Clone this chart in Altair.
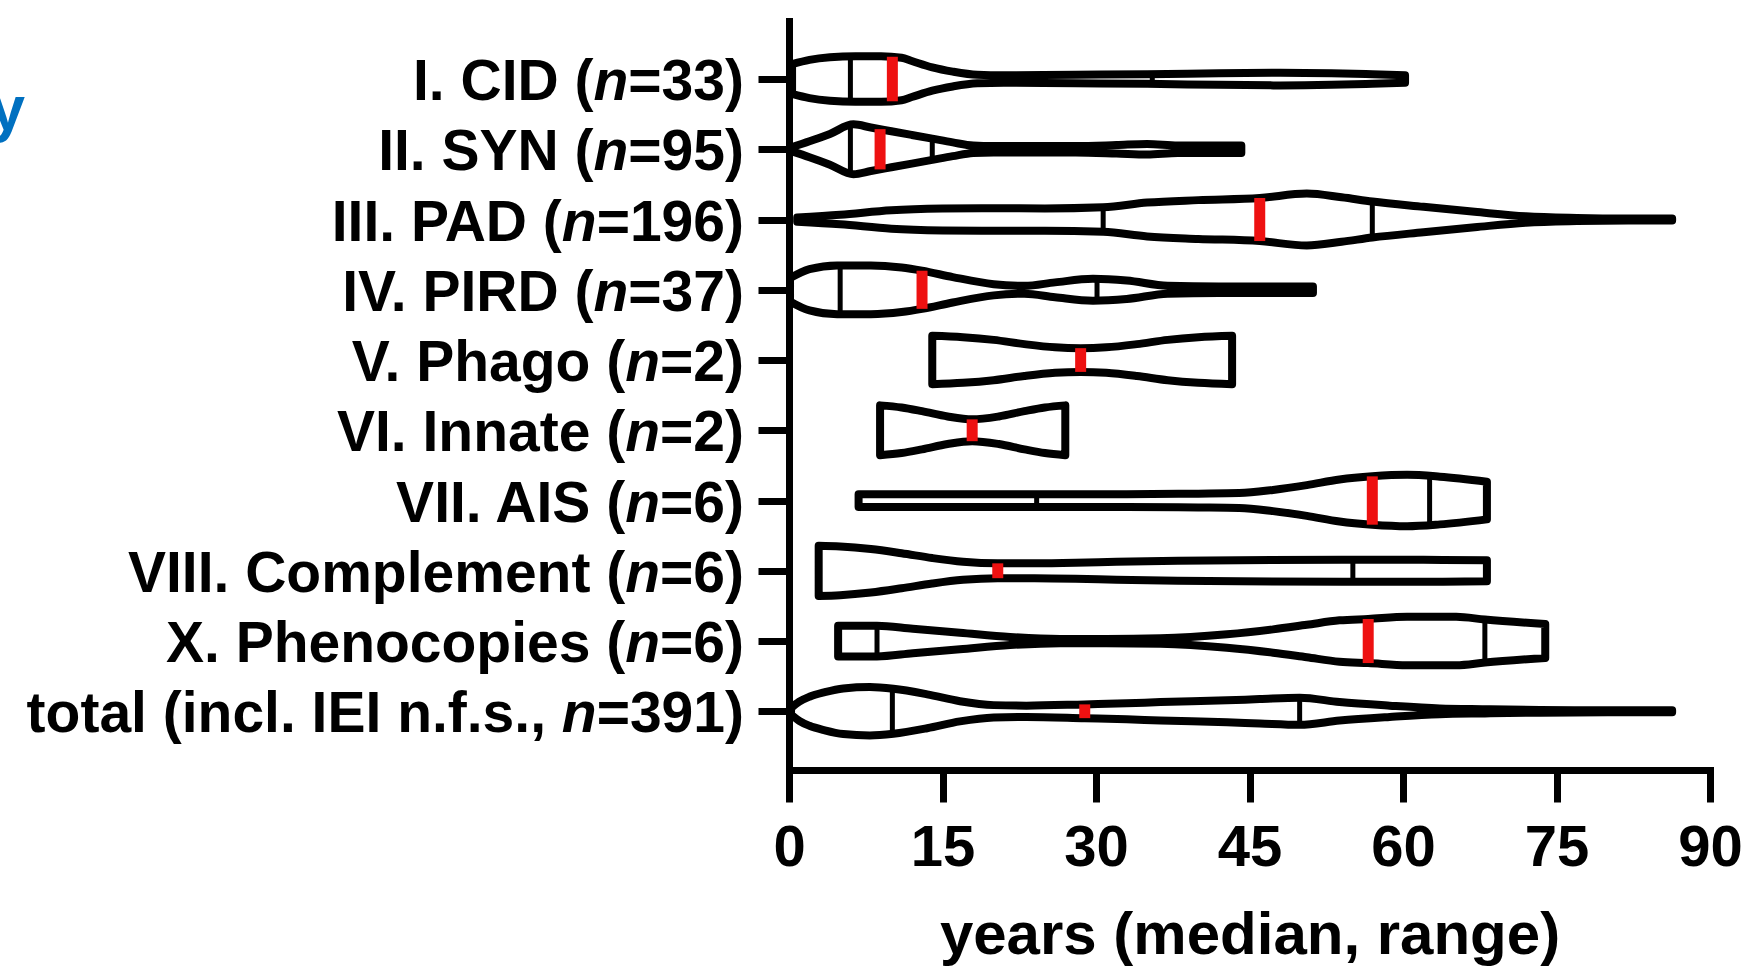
import altair as alt
import pandas as pd

# ---------------- data ----------------
PREFIXES = ["I. CID (", "II. SYN (", "III. PAD (", "IV. PIRD (", "V. Phago (",
            "VI. Innate (", "VII. AIS (", "VIII. Complement (", "X. Phenocopies (",
            "total (incl. IEI n.f.s.,"]
PREFIX_GAP = [0, 0, 0, 0, 0, 0, 0, 0, 0, 1]   # spaces between prefix and italic n
N_TEXT = ["=33)", "=95)", "=196)", "=37)", "=2)", "=2)", "=6)", "=6)", "=6)", "=391)"]

# violin outlines: age (years) and half-width (relative density width)
CID_AGE = [0.3, 2, 4, 6.5, 9, 11, 12, 14, 16, 18.4, 21, 28, 35, 42, 48, 53, 57, 60.2]
CID_W = [14, 18, 20.5, 21.5, 21.5, 20, 17, 11, 7, 4, 3.5, 4, 4.5, 5.5, 6, 5.5, 4.5, 3.5]

SYN_AGE = [0.3, 2, 4, 6.3, 8, 10, 12, 14, 16, 18, 20, 22, 28, 32, 35, 38, 42, 44.2]
SYN_W = [2, 7.5, 14.5, 23.5, 20.5, 17, 13.5, 10, 6.5, 3.5, 3, 3, 3, 4, 5, 3.5, 3.5, 3.5]

PAD_AGE = [0.8, 5, 10, 15, 20, 25, 30.7, 35, 40, 46, 50.6, 54, 57, 62, 67, 72, 77, 82, 86.3]
PAD_W = [2, 4.5, 8.7, 10.3, 10.7, 10.5, 11.6, 16, 18.3, 20.3, 24.5, 21, 17, 12, 7.3, 3, 1.5, 1, 1]

PIRD_AGE = [0.1, 2, 4.7, 8, 11, 13, 16, 20, 23, 26, 29.7, 33, 37, 42, 48, 51.2]
PIRD_W = [11, 19.5, 23, 23, 21, 18, 12, 5.3, 3.7, 7, 10.3, 8.7, 3.7, 3, 3, 3]

PHAGO_AGE = [14.0, 17, 20, 23, 26, 28.5, 31, 34, 37, 40, 43.3]
PHAGO_W = [22.8, 21.5, 19, 15, 12, 11.2, 12, 15, 19, 21.5, 22.8]

INNATE_AGE = [8.9, 11, 13, 15.5, 17.9, 20.5, 23, 25, 27.0]
INNATE_W = [23.5, 21.5, 18, 13, 10.3, 13, 18, 21.5, 23.5]

AIS_AGE = [6.8, 15, 24.2, 33, 40, 44, 47.3, 50.6, 53.8, 57, 60.4, 63.6, 68.2]
AIS_W = [6, 6, 6, 6, 6.5, 7, 10, 14.5, 19.8, 22.8, 24.2, 22.5, 17.8]

COMP_AGE = [2.9, 5, 8, 11, 14, 17, 20.4, 24, 28, 32, 38, 44, 55, 62, 68.2]
COMP_W = [23.7, 23, 20.5, 16.5, 12, 8.5, 7, 7, 7.5, 8.5, 9.5, 10, 10.3, 10.3, 10]

PHENO_AGE = [4.8, 8.6, 12.1, 16.7, 21.6, 26.5, 31, 36.3, 42.8, 47.3, 50.6, 53.8, 56.6, 60.4, 65.2, 68, 73.9]
PHENO_W = [14.5, 14.5, 11.5, 7.8, 3.8, 2, 2, 2.5, 6.3, 11, 15.3, 19.5, 20.8, 22.8, 22.8, 20.3, 16]

TOTAL_AGE = [0.2, 1, 2, 3.5, 5.3, 7.9, 10.2, 13.5, 16.7, 20, 23.2, 28.9, 33, 36.3, 42.8, 46,
             49.9, 53.8, 58.7, 63.6, 68, 73.4, 80, 86.3]
TOTAL_W = [3, 9, 13.7, 18, 21.5, 22.8, 21.2, 16, 9.5, 5.8, 5.3, 6.5, 7.5, 8.7, 10.3, 11.5,
           12.8, 8.7, 5.3, 2.7, 2, 1.3, 1, 1]

MEDIAN_AGE = [10.1, 8.9, 46.0, 13.0, 28.5, 17.9, 57.0, 20.4, 56.6, 28.9]
MEDIAN_W = [21.0, 19.0, 20.3, 18.0, 11.2, 10.3, 22.8, 7.0, 20.8, 6.5]
Q1_AGE = [6.0, 6.0, 30.7, 5.0, None, None, 24.2, None, 8.6, 10.1]
Q1_W = [21.5, 23.0, 11.6, 23.0, None, None, 6.0, None, 14.5, 21.2]
Q3_AGE = [35.5, 14.0, 57.0, 30.1, None, None, 62.6, 55.1, 68.0, 49.9]
Q3_W = [4.5, 10.0, 17.0, 10.2, None, None, 23.0, 10.3, 20.3, 12.8]

X_TICKS = [0, 15, 30, 45, 60, 75, 90]

PROFILES = [(CID_AGE, CID_W), (SYN_AGE, SYN_W), (PAD_AGE, PAD_W), (PIRD_AGE, PIRD_W),
            (PHAGO_AGE, PHAGO_W), (INNATE_AGE, INNATE_W), (AIS_AGE, AIS_W),
            (COMP_AGE, COMP_W), (PHENO_AGE, PHENO_W), (TOTAL_AGE, TOTAL_W)]

# ---------------- layout ----------------
PAD_L, PAD_T = 789, 21
W, H = 921, 749
PAD_R = 1748 - PAD_L - W
PAD_B = 970 - PAD_T - H
Y_LO, Y_HI = -0.826, 9.836
ROW_PX = H / (Y_HI - Y_LO)
WIDTH_GAIN = 1.06          # violin width scaling (display)
FONT = "Liberation Sans"
LABEL_FS = 57
LABEL_END_PX = -45


def px_to_age(px):
    return px / W * 90.0


def half(w):
    return w * WIDTH_GAIN / ROW_PX


# ---------------- tables ----------------
rows = []
for i, (ages, ws) in enumerate(PROFILES):
    for a, w in zip(ages, ws):
        rows.append({"cat": i, "age": a, "lo": i - half(w), "hi": i + half(w)})
violin_df = pd.DataFrame(rows)


def rule_table(ages, ws):
    out = []
    for i, (a, w) in enumerate(zip(ages, ws)):
        if a is None:
            continue
        out.append({"cat": i, "age": a, "lo": i - half(w), "hi": i + half(w)})
    return pd.DataFrame(out)


median_df = rule_table(MEDIAN_AGE, MEDIAN_W)
quart_df = pd.concat([rule_table(Q1_AGE, Q1_W), rule_table(Q3_AGE, Q3_W)], ignore_index=True)

# label pieces (Arial/Liberation Sans Bold advance widths, em units)
ADV = {"=": 0.584, ")": 0.333}
SPACE_EM = 0.278
lab = []
for i, (pre, suf, gap) in enumerate(zip(PREFIXES, N_TEXT, PREFIX_GAP)):
    w_suf = sum(ADV.get(c, 0.556) for c in suf) * LABEL_FS
    w_n = 0.611 * LABEL_FS
    x_suf = LABEL_END_PX
    x_n = x_suf - w_suf
    x_pre = x_n - w_n - gap * SPACE_EM * LABEL_FS
    lab.append({"lo": i, "part": "suf", "text": suf, "age": px_to_age(x_suf)})
    lab.append({"lo": i, "part": "n", "text": "n", "age": px_to_age(x_n)})
    lab.append({"lo": i, "part": "pre", "text": pre, "age": px_to_age(x_pre)})
label_df = pd.DataFrame(lab)

# ---------------- chart ----------------
x_axis = alt.Axis(values=X_TICKS, format="d", grid=False, tickSize=32, tickWidth=7,
                  domainWidth=7, domainCap="square", domainColor="black", tickColor="black",
                  labelFont=FONT, labelFontSize=58, labelFontWeight="bold", labelColor="black",
                  labelPadding=63, labelBaseline="alphabetic", labelFlush=False,
                  title="years (median, range)", titleFont=FONT, titleFontSize=60,
                  titleFontWeight="bold", titleColor="black", titleY=183,
                  titleBaseline="alphabetic", zindex=1)
y_axis = alt.Axis(values=list(range(10)), labels=False, title=None, grid=False, tickSize=31,
                  tickWidth=7, domainWidth=7, domainCap="square", domainColor="black",
                  tickColor="black", zindex=1)

xs = alt.Scale(domain=[0, 90], nice=False, zero=False)
ys = alt.Scale(domain=[Y_LO, Y_HI], reverse=True, nice=False, zero=False)

violins = alt.Chart(violin_df).mark_area(
    orient="vertical", interpolate="monotone", fill="white", fillOpacity=1,
    stroke="black", strokeWidth=8, strokeJoin="round"
).encode(
    x=alt.X("age:Q", scale=xs, axis=x_axis),
    y=alt.Y("lo:Q", scale=ys, axis=y_axis),
    y2="hi:Q",
    detail="cat:N",
)

quartiles = alt.Chart(quart_df).mark_rule(color="black", strokeWidth=5).encode(
    x="age:Q", y="lo:Q", y2="hi:Q")

medians = alt.Chart(median_df).mark_rule(color="#EE1111", strokeWidth=11).encode(
    x="age:Q", y="lo:Q", y2="hi:Q")

text_base = alt.Chart(label_df)
lab_plain = text_base.transform_filter(alt.datum.part != "n").mark_text(
    align="right", baseline="alphabetic", dy=21, font=FONT, fontSize=LABEL_FS,
    fontWeight="bold", color="black"
).encode(x="age:Q", y="lo:Q", text="text:N")
lab_ital = text_base.transform_filter(alt.datum.part == "n").mark_text(
    align="right", baseline="alphabetic", dy=21, font=FONT, fontSize=LABEL_FS,
    fontWeight="bold", fontStyle="italic", color="black"
).encode(x="age:Q", y="lo:Q", text="text:N")

blue_y = alt.Chart(pd.DataFrame({"t": ["y"]})).mark_text(
    align="right", baseline="alphabetic", font=FONT, fontSize=63, fontWeight="bold",
    color="#0070C0"
).encode(x=alt.value(25 - PAD_L), y=alt.value(130 - PAD_T), text="t:N")

chart = alt.layer(violins, quartiles, medians, lab_plain, lab_ital, blue_y).properties(
    width=W, height=H,
    padding={"left": PAD_L, "top": PAD_T, "right": PAD_R, "bottom": PAD_B},
    autosize=alt.AutoSizeParams(type="none"),
    background="white",
).configure_view(stroke=None)

chart.save("out.html", embed_options={"renderer": "svg", "actions": False})
